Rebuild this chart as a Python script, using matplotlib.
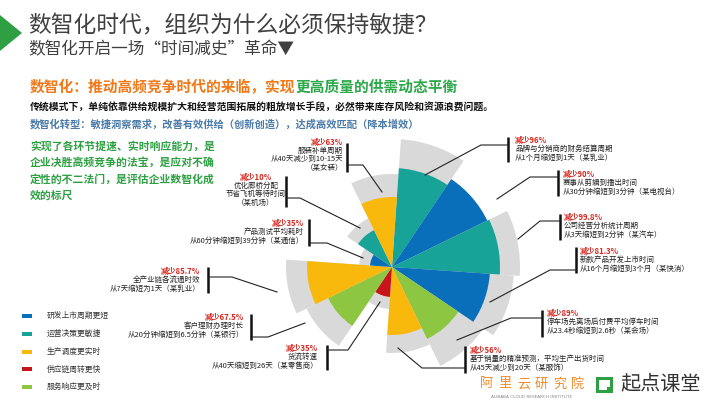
import matplotlib.pyplot as plt
from matplotlib.patches import Wedge, Polygon, Rectangle

plt.rcParams['font.family'] = ['Noto Sans CJK SC', 'DejaVu Sans']

# 图例类别与颜色
categories = ["研发上市周期更短", "运营决策更敏捷", "生产调度更实时", "供应链周转更快", "服务响应更及时"]
cat_colors = ["#0A6FBA", "#17A398", "#F9B90C", "#C8141B", "#8DC641"]

# 12 个扇区，从正上方顺时针
seg_cat = [1, 0, 1, 0, 4, 2, 3, 4, 2, 0, 1, 2]
seg_value = [99, 106, 108, 98, 80, 68, 30, 71, 85, 22, 41, 70]
seg_back = [128, 104, 128, 122, 110, 86, 42, 95, 106, 33, 54, 93]

reductions = ["减少96%", "减少90%", "减少99.8%", "减少81.3%", "减少89%", "减少56%",
              "减少35%", "减少67.5%", "减少85.7%", "减少35%", "减少10%", "减少63%"]
descs = [
    ["品牌与分销商的财务结算周期", "从1个月缩短到1天（某乳业）"],
    ["赛事从剪辑到播出时间", "从30分钟缩短到3分钟（某电视台）"],
    ["公司经营分析统计周期", "从3天缩短到2分钟（某汽车）"],
    ["新款产品开发上市时间", "从16个月缩短到3个月（某快消）"],
    ["停车场先离场后付费平均停车时间", "从23.4秒缩短到2.6秒（某会场）"],
    ["基于销量的精准预测，平均生产出货时间", "从45天减少到20天（某服饰）"],
    ["货流转速", "从40天缩短到26天（某零售商）"],
    ["客户理财办理时长", "从20分钟缩短到6.5分钟（某银行）"],
    ["全产业链各流通时效", "从7天缩短为1天（某乳业）"],
    ["产品测试平均耗时", "从60分钟缩短到39分钟（某通信）"],
    ["优化廊桥分配", "节省飞机等待时间", "（某机场）"],
    ["服装补单周期", "从40天减少到10-15天", "（某女装）"],
]

# 标注版式：文字 x, 首行 y, 对齐, 竖线 x, 竖线 y 范围, 引线
ann_layout = [
    (515, 140, 'left', 508, (137, 162), [(508, 145), (481, 145), (425, 175)]),
    (563, 174, 'left', 558, (170, 196), [(558, 177), (530, 177), (497, 199)]),
    (564, 217, 'left', 560, (214, 240), [(560, 221), (540, 221), (518, 239)]),
    (580, 251, 'left', 576, (247, 273), [(576, 270), (550, 270), (490, 302)]),
    (547, 313, 'left', 542, (310, 337), [(542, 318), (511, 318), (457, 340)]),
    (470, 350, 'left', 465, (346, 373), [(465, 368), (422, 368), (398, 348)]),
    (318, 348, 'right', 327, (345, 370), [(327, 350), (348, 350), (380, 302)]),
    (244, 317, 'right', 251, (314, 340), [(251, 337), (268, 337), (305, 323)]),
    (200, 271, 'right', 208, (267, 293), [(208, 277), (232, 277), (277, 292)]),
    (304, 223, 'right', 309, (219, 246), [(309, 243), (327, 243), (363, 258)]),
    (256, 177, 'center', 286, (176, 207), [(286, 198), (300, 198), (360, 228)]),
    (343, 142, 'right', 347, (143, 172), [(347, 165), (363, 165), (382, 192)]),
]

fig = plt.figure(figsize=(7.2, 4.05), dpi=100)
ax = fig.add_axes([0, 0, 1, 1])
ax.set_xlim(0, 720)
ax.set_ylim(405, 0)
ax.axis('off')

# 玫瑰图
cx, cy = 392, 267
start = 4
step = 360 / len(seg_value)
for i in range(len(seg_value)):
    a1 = start + i * step - 90
    a2 = a1 + step
    ax.add_patch(Wedge((cx, cy), seg_back[i], a1, a2, color="#D9D9D9", lw=0))
for i in range(len(seg_value)):
    a1 = start + i * step - 90
    a2 = a1 + step
    ax.add_patch(Wedge((cx, cy), seg_value[i], a1, a2, color=cat_colors[seg_cat[i]], lw=0))

# 标题部分
ax.add_patch(Polygon([(0, 15), (22, 33), (0, 51)], color="#2EA043", lw=0))
ax.text(28, 25, "数智化时代，组织为什么必须保持敏捷？", fontsize=16.4, color="#404040", va='center')
ax.text(28, 50, "数智化开启一场“时间减史”革命▼", fontsize=12, color="#404040", va='center')
t = ax.text(30, 87, "数智化：推动高频竞争时代的来临，实现", fontsize=10.6, color="#F07A1A",
            fontweight='bold', va='center')
ax.annotate("更高质量的供需动态平衡", xycoords=t, xy=(1, 0.5), va='center', fontsize=10.6,
            color="#2BA84A", fontweight='bold')
ax.text(30, 108, "传统模式下，单纯依靠供给规模扩大和经营范围拓展的粗放增长手段，必然带来库存风险和资源浪费问题。",
        fontsize=7.1, color="#111111", fontweight='bold', va='center')
ax.text(30, 124, "数智化转型：敏捷洞察需求，改善有效供给（创新创造），达成高效匹配（降本增效）",
        fontsize=7.4, color="#4A7AA8", fontweight='bold', va='center')

para = ["实现了各环节提速、实时响应能力，是", "企业决胜高频竞争的法宝，是应对不确",
        "定性的不二法门，是评估企业数智化成", "效的标尺"]
for k, line in enumerate(para):
    ax.text(30, 146 + k * 16.5, line, fontsize=7.8, color="#2EA043", fontweight='bold', va='center')

# 图例
for k, name in enumerate(categories):
    y = 316 + k * 17.8
    ax.add_patch(Rectangle((22, y - 2), 10, 4, color=cat_colors[k], lw=0))
    ax.text(47, y, name, fontsize=5.6, color="#333333", va='center')

# 标注
for i in range(len(reductions)):
    tx, ty, ha, bx, (by0, by1), pts = ann_layout[i]
    lines = [reductions[i]] + descs[i]
    gap = 9 if len(lines) == 3 else 8.6
    for k, line in enumerate(lines):
        if k == 0:
            ax.text(tx, ty + k * gap, line, fontsize=5.6, color="#D7261E", fontweight='bold',
                    ha=ha, va='center')
        else:
            ax.text(tx, ty + k * gap, line, fontsize=5.4, color="#222222", ha=ha, va='center')
    ax.plot([bx, bx], [by0, by1], color="#111111", lw=1.8, solid_capstyle='butt')
    ax.plot([p[0] for p in pts], [p[1] for p in pts], color="#222222", lw=0.8)

# 底部标识
brand = "阿里云研究院"
for k, ch in enumerate(brand):
    ax.text(487 + k * 18.2, 384, ch, fontsize=9.5, color="#F08A2A", ha='center', va='center')
ax.text(532, 397, "ALIBABA CLOUD RESEARCH INSTITUTE", fontsize=3.1, color="#888888",
        ha='center', va='center', family='DejaVu Sans')
ax.add_patch(Rectangle((597, 378), 14, 13, fill=False, ec="#2EA043", lw=2.2))
ax.add_patch(Rectangle((607, 387), 5, 5, color="#2EA043", lw=0))
ax.text(620, 385, "起点课堂", fontsize=14.5, color="#333333", va='center')

fig.savefig("out.png", dpi=100)
